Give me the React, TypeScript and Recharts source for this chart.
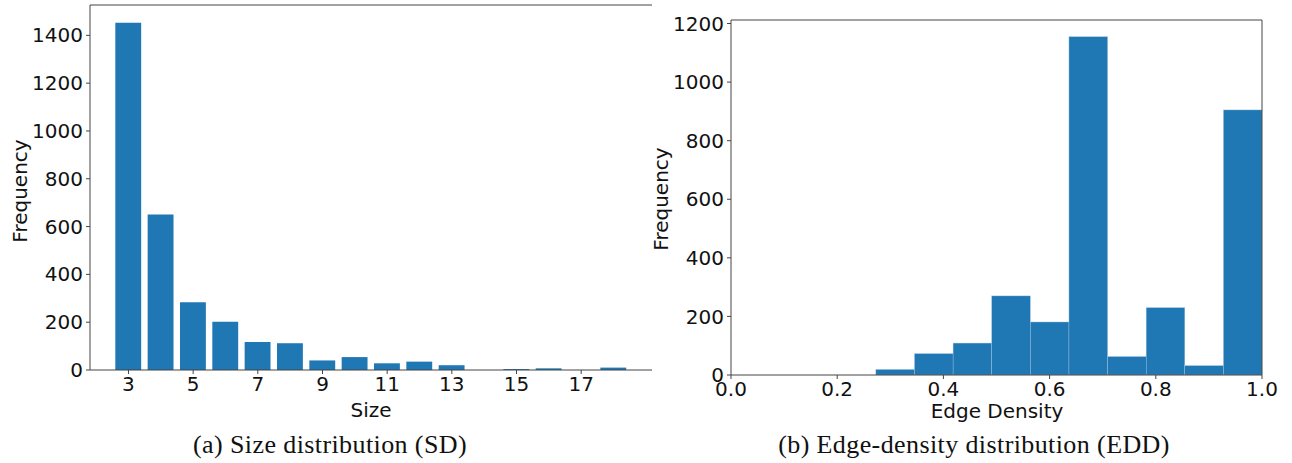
import { BarChart, Bar, XAxis, YAxis, ReferenceLine } from "recharts"

// (a) size distribution
const sizes = [3, 4, 5, 6, 7, 8, 9, 10, 11, 12, 13, 14, 15, 16, 17, 18]
const sizeCounts = [1453, 651, 283, 202, 117, 112, 40, 54, 28, 35, 20, 0, 4, 7, 0, 10]
const sizeTicks = [3, 5, 7, 9, 11, 13, 15, 17]
const freqTicksA = [0, 200, 400, 600, 800, 1000, 1200, 1400]

// (b) edge-density histogram
const binEdges = [0.2727, 0.3455, 0.4182, 0.4909, 0.5636, 0.6364, 0.7091, 0.7818, 0.8545, 0.9273, 1.0]
const densityCounts = [19, 73, 109, 270, 181, 1155, 63, 230, 32, 905]
const densityTicks = [0, 0.2, 0.4, 0.6, 0.8, 1.0]
const freqTicksB = [0, 200, 400, 600, 800, 1000, 1200]

const BLUE = "#1f77b4"
const TICK_FONT = { fill: "#111", fontSize: 20, fontFamily: "DejaVu Sans" }
const AXIS = { stroke: "#444" }

const sizeData = sizes.map((s, i) => ({ size: s, count: sizeCounts[i] }))
const densityData = densityCounts.map((c, i) => ({
  center: (binEdges[i] + binEdges[i + 1]) / 2,
  count: c,
}))

const xDomainA: [number, number] = [1.81, 19.19]
const yMaxA = 1527
const plotWA = 562
const barWA = (0.8 * plotWA) / (xDomainA[1] - xDomainA[0])

const yMaxB = 1212
const plotWB = 531
const barWB = plotWB * (binEdges[1] - binEdges[0])

// histogram bins touch each other
const HistBar = (props: any) => {
  const { x, y, width, height } = props
  if (!height || height <= 0) return null
  const cx = x + width / 2
  return (
    <rect
      x={cx - barWB / 2}
      y={y}
      width={barWB}
      height={height}
      fill={BLUE}
      stroke="#a9c9e2"
      strokeWidth={0.4}
    />
  )
}

const title: React.CSSProperties = {
  position: "absolute",
  fontFamily: "DejaVu Sans",
  fontSize: 20,
  lineHeight: "20px",
  color: "#111",
  whiteSpace: "nowrap",
}
const caption: React.CSSProperties = {
  position: "absolute",
  fontFamily: "Liberation Serif",
  fontSize: 26,
  letterSpacing: 0.4,
  color: "#111",
  whiteSpace: "nowrap",
  transform: "translateX(-50%)",
}

export default function App() {
  return (
    <div style={{ position: "absolute", left: 0, top: 0, width: 1292, height: 463, background: "#fff" }}>
      <div style={{ position: "absolute", left: 0, top: 0 }}>
        <BarChart width={660} height={463} data={sizeData} margin={{ top: 5, right: 8, bottom: 63, left: 0 }}>
          <XAxis
            type="number"
            dataKey="size"
            domain={xDomainA}
            ticks={sizeTicks}
            interval={0}
            allowDataOverflow
            height={30}
            tickSize={4}
            tickMargin={3}
            tick={TICK_FONT}
            axisLine={AXIS}
            tickLine={AXIS}
          />
          <YAxis
            type="number"
            domain={[0, yMaxA]}
            ticks={freqTicksA}
            interval={0}
            allowDataOverflow
            width={90}
            tickSize={4}
            tickMargin={3}
            tick={TICK_FONT}
            axisLine={AXIS}
            tickLine={AXIS}
          />
          <ReferenceLine y={yMaxA} stroke="#444" ifOverflow="visible" />
          <Bar dataKey="count" fill={BLUE} barSize={barWA} isAnimationActive={false} />
        </BarChart>
      </div>
      <div style={{ position: "absolute", left: 660, top: 0 }}>
        <BarChart
          width={632}
          height={463}
          data={densityData}
          margin={{ top: 20, right: 30, bottom: 58, left: 0 }}
        >
          <XAxis
            type="number"
            dataKey="center"
            domain={[0, 1]}
            ticks={densityTicks}
            interval={0}
            allowDataOverflow
            height={30}
            tickSize={4}
            tickMargin={3}
            tick={TICK_FONT}
            tickFormatter={(v: number) => v.toFixed(1)}
            axisLine={AXIS}
            tickLine={AXIS}
          />
          <YAxis
            type="number"
            domain={[0, yMaxB]}
            ticks={freqTicksB}
            interval={0}
            allowDataOverflow
            width={71}
            tickSize={4}
            tickMargin={3}
            tick={TICK_FONT}
            axisLine={AXIS}
            tickLine={AXIS}
          />
          <ReferenceLine y={yMaxB} stroke="#444" ifOverflow="visible" />
          <ReferenceLine x={1} stroke="#444" ifOverflow="visible" />
          <Bar dataKey="count" fill={BLUE} shape={HistBar} isAnimationActive={false} />
        </BarChart>
      </div>

      <div style={{ ...title, left: 20, top: 191, transform: "translate(-50%, -50%) rotate(-90deg)" }}>Frequency</div>
      <div style={{ ...title, left: 371, top: 400, transform: "translateX(-50%)" }}>Size</div>
      <div style={{ ...caption, left: 330, top: 430 }}>(a) Size distribution (SD)</div>

      <div style={{ ...title, left: 661, top: 199, transform: "translate(-50%, -50%) rotate(-90deg)" }}>Frequency</div>
      <div style={{ ...title, left: 997, top: 401, transform: "translateX(-50%)" }}>Edge Density</div>
      <div style={{ ...caption, left: 974, top: 430 }}>(b) Edge-density distribution (EDD)</div>
    </div>
  )
}
